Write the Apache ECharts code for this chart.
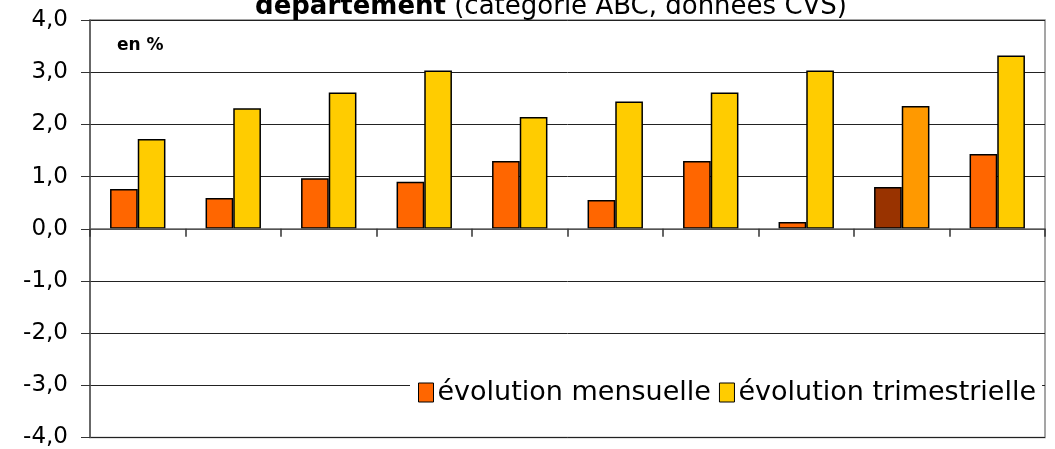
<!DOCTYPE html>
<html>
<head>
<meta charset="utf-8">
<script src="https://cdn.jsdelivr.net/npm/echarts@6/dist/echarts.min.js"></script>
<style>
  html, body { margin: 0; padding: 0; background: #fff; }
  #chart { width: 1055px; height: 449px; }
</style>
</head>
<body>
<div id="chart"></div>
<script>
// catégories (étiquettes non affichées sur l'axe)
const categories = ['1', '2', '3', '4', '5', '6', '7', '8', '9', '10']
const mensuelle = [0.76, 0.59, 0.97, 0.90, 1.30, 0.55, 1.30, 0.13, 0.80, 1.43]
const trimestrielle = [1.72, 2.31, 2.61, 3.03, 2.14, 2.44, 2.61, 3.03, 2.35, 3.32]
// catégorie mise en évidence (couleurs plus foncées)
const highlightIndex = 8
const yTicks = [-4, -3, -2, -1, 0, 1, 2, 3, 4]

const font = 'DejaVu Sans'
const chart = echarts.init(document.getElementById('chart'))

const withHighlight = (values, color) =>
  values.map((v, i) => i === highlightIndex ? { value: v, itemStyle: { color } } : v)

chart.setOption({
  animation: false,
  textStyle: { fontFamily: font, color: '#000' },
  title: {
    text: '{b|département} (catégorie ABC, données CVS)',
    left: 546,
    textAlign: 'center',
    top: -11,
    textStyle: {
      fontFamily: font,
      fontSize: 26,
      fontWeight: 'normal',
      color: '#000',
      rich: { b: { fontFamily: font, fontSize: 26, fontWeight: 'bold', color: '#000' } }
    }
  },
  graphic: [{
    type: 'text',
    left: 117,
    top: 37,
    style: { text: 'en %', font: 'bold 17px "DejaVu Sans"', fill: '#000' }
  }],
  legend: {
    left: 410,
    top: 376,
    itemWidth: 15,
    itemHeight: 19,
    itemGap: 8,
    backgroundColor: '#fff',
    padding: [3, 6, 3, 8],
    icon: 'rect',
    textStyle: { fontFamily: font, fontSize: 27, color: '#000', padding: [0, 0, 0, -1] },
    itemStyle: { borderColor: '#000', borderWidth: 1 }
  },
  grid: {
    left: 90, right: 10, top: 20, bottom: 9,
    show: true, borderColor: '#888', borderWidth: 1.5, backgroundColor: 'transparent'
  },
  xAxis: {
    type: 'category',
    data: categories,
    axisLine: { onZero: true, lineStyle: { color: '#666', width: 1.5 } },
    axisTick: { show: true, length: 8, lineStyle: { color: '#333', width: 1.5 } },
    axisLabel: { show: false },
    z: 3
  },
  yAxis: {
    type: 'value',
    min: yTicks[0],
    max: yTicks[yTicks.length - 1],
    interval: 1,
    axisLine: { show: true, lineStyle: { color: '#555', width: 1.5 } },
    axisTick: { show: true, length: 9, lineStyle: { color: '#333', width: 1 } },
    axisLabel: {
      fontFamily: font,
      fontSize: 23,
      color: '#000',
      margin: 22,
      formatter: v => v.toFixed(1).replace('.', ',')
    },
    splitLine: { lineStyle: { color: '#222', width: 1 } }
  },
  series: [
    {
      name: 'évolution mensuelle',
      type: 'bar',
      data: withHighlight(mensuelle, '#993300'),
      barGap: '0%',
      barCategoryGap: '42%',
      itemStyle: { color: '#FF6600', borderColor: '#000', borderWidth: 1.5 }
    },
    {
      name: 'évolution trimestrielle',
      type: 'bar',
      data: withHighlight(trimestrielle, '#FF9900'),
      barGap: '0%',
      barCategoryGap: '42%',
      itemStyle: { color: '#FFCC00', borderColor: '#000', borderWidth: 1.5 }
    }
  ]
})
</script>
</body>
</html>
